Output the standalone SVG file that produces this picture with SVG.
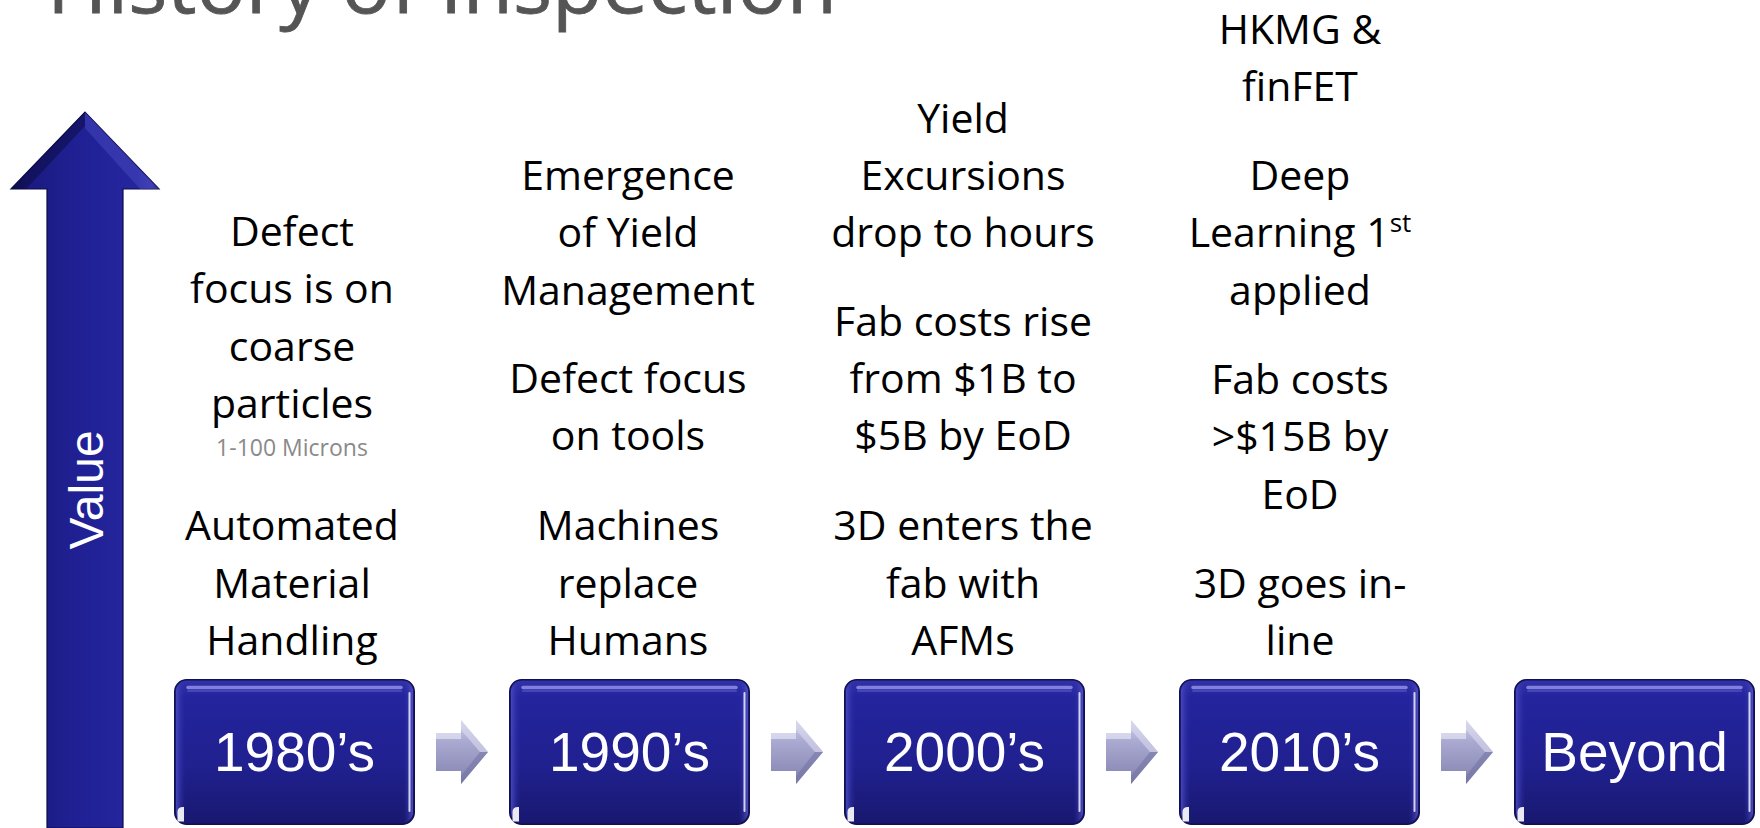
<svg xmlns="http://www.w3.org/2000/svg" xmlns:xlink="http://www.w3.org/1999/xlink" width="1760" height="828" viewBox="0 0 1760 828">
  <style>
    .title { font-family: "Open Sans", "Liberation Sans", sans-serif; font-size: 78px; fill: #555555; stroke: #555555; stroke-width: 0.8px; }
    .note { font-family: "Open Sans", "Liberation Sans", sans-serif; font-size: 41px; fill: #000000; text-anchor: middle; }
    .note .sup { font-size: 26px; }
    .unit { font-family: "Open Sans", "Liberation Sans", sans-serif; font-size: 23px; fill: #8a8a8a; text-anchor: middle; }
    .era { font-family: "Liberation Sans", Arial, sans-serif; font-size: 55px; fill: #ffffff; text-anchor: middle; }
    .axis-label { font-family: "Liberation Sans", Arial, sans-serif; font-size: 48px; fill: #ffffff; text-anchor: middle; }
  </style>
  <defs>
    <!-- glossy navy fill for the era tiles -->
    <linearGradient id="boxFill" x1="0" y1="0" x2="0" y2="1">
      <stop offset="0" stop-color="#3232aa"/>
      <stop offset="0.12" stop-color="#24249e"/>
      <stop offset="0.6" stop-color="#20208f"/>
      <stop offset="1" stop-color="#18186f"/>
    </linearGradient>
    <linearGradient id="boxSide" x1="0" y1="0" x2="1" y2="0">
      <stop offset="0" stop-color="#4a4ac0" stop-opacity="0.9"/>
      <stop offset="0.04" stop-color="#2a2aa4" stop-opacity="0"/>
      <stop offset="0.96" stop-color="#2a2aa4" stop-opacity="0"/>
      <stop offset="1" stop-color="#5a5ac8" stop-opacity="0.8"/>
    </linearGradient>
    <!-- cylinder shading for the value axis -->
    <linearGradient id="axisFill" x1="0" y1="0" x2="1" y2="0">
      <stop offset="0" stop-color="#0e0e55"/>
      <stop offset="0.1" stop-color="#1a1a80"/>
      <stop offset="0.5" stop-color="#212196"/>
      <stop offset="0.85" stop-color="#25259e"/>
      <stop offset="0.95" stop-color="#3a3ab0"/>
      <stop offset="1" stop-color="#14145c"/>
    </linearGradient>
    <linearGradient id="stepFill" x1="0" y1="0" x2="0" y2="1">
      <stop offset="0" stop-color="#d0d0ea"/>
      <stop offset="0.35" stop-color="#a8a8d0"/>
      <stop offset="1" stop-color="#8282ae"/>
    </linearGradient>

    <g id="eraBox">
      <rect x="0.75" y="0.75" width="239.5" height="144.5" rx="12" fill="url(#boxFill)" stroke="#10104f" stroke-width="1.5"/>
      <rect x="2" y="2" width="237" height="142" rx="11" fill="url(#boxSide)"/>
      <path d="M14 8.5 H227" stroke="#9090e6" stroke-width="3.5" stroke-linecap="round" opacity="0.85"/>
      <path d="M14 12 H227" stroke="#5a5ac8" stroke-width="2" stroke-linecap="round" opacity="0.6"/>
      <path d="M235.5 14 V132" stroke="#e4e4ff" stroke-width="2" stroke-linecap="round" opacity="0.9"/>
      <path d="M3.5 142.5 V133 Q3.5 128 9 128 H10 V142.5 Z" fill="#ffffff" opacity="0.9"/>
    </g>

    <g id="stepArrow">
      <path d="M-26 -19 H-1 V-32 L26 0 L-1 32 V19 H-26 Z" fill="url(#stepFill)"/>
      <path d="M-26 -19 H-1 V-13 H-26 Z" fill="#e2e2f4" opacity="0.7"/>
      <path d="M-1 -32 L26 0 L18 0 L-1 -22 Z" fill="#dcdcf2" opacity="0.6"/>
      <path d="M-1 32 L26 0 L18 0 L-1 24 Z" fill="#6e6ea0" opacity="0.5"/>
    </g>
  </defs>

  <rect width="1760" height="828" fill="#ffffff"/>

  <!-- slide heading, running off the top edge -->
  <g id="title">
    <text class="title" x="47" y="13" textLength="790" lengthAdjust="spacingAndGlyphs">History of Inspection</text>
  </g>

  <!-- vertical value axis -->
  <g id="value-axis">
    <path d="M47 828 V189 H11 L85 112 L159 189 H123 V828 Z" fill="url(#axisFill)" stroke="#0c0c48" stroke-width="1.2"/>
    <path d="M85 112 L159 189 H140 L85 128 Z" fill="#4646bc" opacity="0.55"/>
    <path d="M85 112 L11 189 H26 L85 126 Z" fill="#0a0a40" opacity="0.5"/>
    <text class="axis-label" transform="translate(103 490) rotate(-90)">Value</text>
  </g>

  <!-- notes per decade -->
  <g id="notes-1980s">
    <text class="note" x="292" y="246">Defect</text>
    <text class="note" x="292" y="303">focus is on</text>
    <text class="note" x="292" y="361">coarse</text>
    <text class="note" x="292" y="418">particles</text>
    <text class="unit" x="292" y="456">1-100 Microns</text>
    <text class="note" x="292" y="540">Automated</text>
    <text class="note" x="292" y="598">Material</text>
    <text class="note" x="292" y="655">Handling</text>
  </g>

  <g id="notes-1990s">
    <text class="note" x="628" y="190">Emergence</text>
    <text class="note" x="628" y="247">of Yield</text>
    <text class="note" x="628" y="305">Management</text>
    <text class="note" x="628" y="393">Defect focus</text>
    <text class="note" x="628" y="450">on tools</text>
    <text class="note" x="628" y="540">Machines</text>
    <text class="note" x="628" y="598">replace</text>
    <text class="note" x="628" y="655">Humans</text>
  </g>

  <g id="notes-2000s">
    <text class="note" x="963" y="133">Yield</text>
    <text class="note" x="963" y="190">Excursions</text>
    <text class="note" x="963" y="247">drop to hours</text>
    <text class="note" x="963" y="336">Fab costs rise</text>
    <text class="note" x="963" y="393">from $1B to</text>
    <text class="note" x="963" y="450">$5B by EoD</text>
    <text class="note" x="963" y="540">3D enters the</text>
    <text class="note" x="963" y="598">fab with</text>
    <text class="note" x="963" y="655">AFMs</text>
  </g>

  <g id="notes-2010s">
    <text class="note" x="1300" y="44">HKMG &amp;</text>
    <text class="note" x="1300" y="101">finFET</text>
    <text class="note" x="1300" y="190">Deep</text>
    <text class="note" x="1300" y="247">Learning 1<tspan class="sup" dy="-15">st</tspan></text>
    <text class="note" x="1300" y="305">applied</text>
    <text class="note" x="1300" y="394">Fab costs</text>
    <text class="note" x="1300" y="451">&gt;$15B by</text>
    <text class="note" x="1300" y="509">EoD</text>
    <text class="note" x="1300" y="598">3D goes in-</text>
    <text class="note" x="1300" y="655">line</text>
  </g>

  <!-- decade tiles -->
  <g id="era-1980s">
    <use xlink:href="#eraBox" x="174" y="679"/>
    <text class="era" x="294.5" y="771">1980’s</text>
  </g>
  <g id="era-1990s">
    <use xlink:href="#eraBox" x="509" y="679"/>
    <text class="era" x="629.5" y="771">1990’s</text>
  </g>
  <g id="era-2000s">
    <use xlink:href="#eraBox" x="844" y="679"/>
    <text class="era" x="964.5" y="771">2000’s</text>
  </g>
  <g id="era-2010s">
    <use xlink:href="#eraBox" x="1179" y="679"/>
    <text class="era" x="1299.5" y="771">2010’s</text>
  </g>
  <g id="era-beyond">
    <use xlink:href="#eraBox" x="1514" y="679"/>
    <text class="era" x="1634.5" y="771">Beyond</text>
  </g>

  <!-- step arrows between tiles -->
  <g id="connectors">
    <use xlink:href="#stepArrow" x="462" y="752"/>
    <use xlink:href="#stepArrow" x="797" y="752"/>
    <use xlink:href="#stepArrow" x="1132" y="752"/>
    <use xlink:href="#stepArrow" x="1467" y="752"/>
  </g>
</svg>
